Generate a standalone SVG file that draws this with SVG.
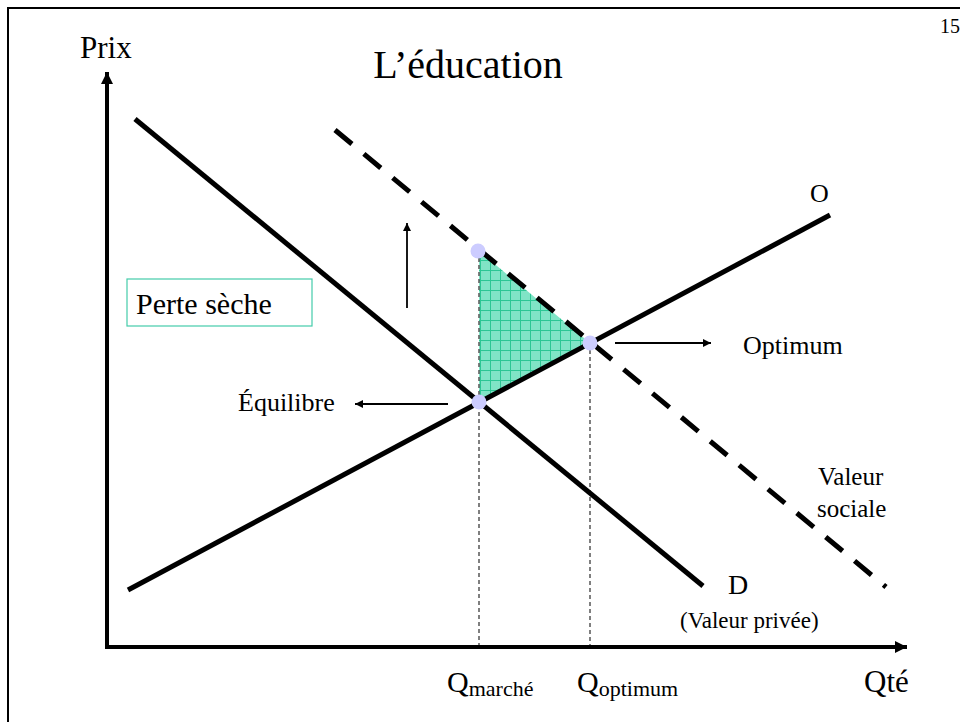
<svg xmlns="http://www.w3.org/2000/svg" width="960" height="722" viewBox="0 0 960 722">
<style>
  text { font-family: "Liberation Serif", "Times New Roman", serif; fill: #000; }
  .curve { stroke: #000; stroke-width: 5; fill: none; }
  .guide { stroke: #555; stroke-width: 1.5; stroke-dasharray: 4 3; fill: none; }
  .arr { stroke: #000; stroke-width: 1.8; fill: none; marker-end: url(#head); }
  .axis { stroke: #000; stroke-width: 4; fill: none; marker-end: url(#axhead); }
  .pt { fill: #ccccff; }
</style>
<defs>
  <marker id="head" viewBox="0 0 10 10" refX="10" refY="5" markerWidth="10" markerHeight="8" markerUnits="userSpaceOnUse" orient="auto">
    <path d="M0,0 L10,5 L0,10 Z" fill="#000"/>
  </marker>
  <marker id="axhead" viewBox="0 0 12 12" refX="12" refY="6" markerWidth="13" markerHeight="12" markerUnits="userSpaceOnUse" orient="auto">
    <path d="M0,0 L12,6 L0,12 Z" fill="#000"/>
  </marker>
  <pattern id="grid" width="10" height="10" patternUnits="userSpaceOnUse">
    <rect width="10" height="10" fill="#80e4c6"/>
    <path d="M0,0.5 H10 M0.5,0 V10" stroke="#2cc694" stroke-width="1"/>
  </pattern>
</defs>
<rect x="0" y="0" width="960" height="722" fill="#fff"/>
<rect x="8" y="8" width="980" height="760" fill="none" stroke="#000" stroke-width="2"/>
<text x="940" y="33" font-size="20">15</text>

<g id="title"><text x="468" y="78" font-size="40" text-anchor="middle">L’éducation</text></g>

<g id="deadweight-area">
  <polygon points="479,251 590,343 479,402" fill="url(#grid)"/>
</g>

<g id="connectors">
  <line class="axis" x1="107" y1="649" x2="107" y2="72"/>
  <line class="axis" x1="105" y1="647" x2="907" y2="647"/>
  <line class="guide" x1="479" y1="251" x2="479" y2="645"/>
  <line class="guide" x1="590" y1="343" x2="590" y2="645"/>
  <line class="arr" x1="407" y1="308" x2="407" y2="223"/>
  <line class="arr" x1="615" y1="343" x2="711" y2="343"/>
  <line class="arr" x1="448" y1="404" x2="355" y2="404"/>
</g>

<g id="demand"><line class="curve" x1="135" y1="119" x2="703" y2="586"/></g>
<g id="supply"><line class="curve" x1="128" y1="590" x2="830" y2="215"/></g>
<g id="social-value"><line class="curve" x1="335" y1="130" x2="886" y2="587" stroke-dasharray="22 15.5"/></g>

<g id="point-top"><circle class="pt" cx="478" cy="251" r="7.5"/></g>
<g id="point-optimum"><circle class="pt" cx="590" cy="343" r="7.5"/></g>
<g id="point-equilibrium"><circle class="pt" cx="479" cy="402" r="7.5"/></g>

<g id="label-prix"><text x="80" y="58" font-size="31">Prix</text></g>
<g id="label-qte"><text x="864" y="692" font-size="31">Qté</text></g>
<g id="label-o"><text x="810" y="202" font-size="26">O</text></g>
<g id="perte-seche">
  <rect x="127" y="279" width="185" height="47" fill="#fff" stroke="#44ccaa" stroke-width="1.2"/>
  <text x="136" y="314" font-size="30">Perte sèche</text>
</g>
<g id="label-equilibre"><text x="238" y="411" font-size="26">Équilibre</text></g>
<g id="label-optimum"><text x="743" y="354" font-size="26">Optimum</text></g>
<g id="label-valeur-sociale">
  <text x="818" y="485" font-size="25">Valeur</text>
  <text x="817" y="517" font-size="25">sociale</text>
</g>
<g id="label-d"><text x="728" y="594" font-size="28">D</text></g>
<g id="label-valeur-privee"><text x="680" y="628" font-size="23">(Valeur privée)</text></g>
<g id="label-qmarche"><text x="447" y="692" font-size="30">Q<tspan font-size="22" dy="4">marché</tspan></text></g>
<g id="label-qoptimum"><text x="577" y="692" font-size="30">Q<tspan font-size="22" dy="4">optimum</tspan></text></g>
</svg>
